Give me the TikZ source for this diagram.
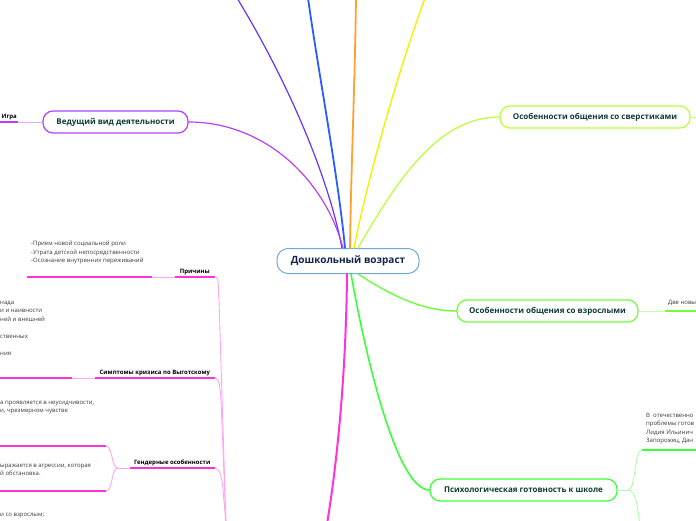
\documentclass[tikz,border=0pt]{standalone}
\usepackage{fontspec}
\setmainfont{Open Sans}
\usetikzlibrary{positioning, calc}

\definecolor{rootblue}{HTML}{6FA8DC}
\definecolor{roottext}{HTML}{10244A}
\definecolor{nodetext}{HTML}{0E3B36}
\definecolor{cViolet}{HTML}{6633FF}
\definecolor{cBlue}{HTML}{2B5CFF}
\definecolor{cOrange}{HTML}{FFA033}
\definecolor{cYellow}{HTML}{F2F200}
\definecolor{cPurple}{HTML}{B540F7}
\definecolor{cPurpleL}{HTML}{DDA8FF}
\definecolor{cLime}{HTML}{B8FF33}
\definecolor{cLimeL}{HTML}{C8FF55}
\definecolor{cGreenA}{HTML}{6CFF3A}
\definecolor{cGreenAL}{HTML}{C4FFB0}
\definecolor{cGreenB}{HTML}{3CFF3C}
\definecolor{cGreenBL}{HTML}{AAFFAA}
\definecolor{cMagenta}{HTML}{FF33DD}
\definecolor{cPinkL}{HTML}{FFA6F0}
\definecolor{notegray}{HTML}{3A3A3A}

\begin{document}
\begin{tikzpicture}[
    x=1pt, y=-1pt,
    rootnode/.style={
        rectangle,
        rounded corners=11pt,
        draw=rootblue,
        line width=1pt,
        fill=white,
        minimum width=142pt,
        minimum height=25pt,
        text=roottext,
        font=\fontsize{10}{12}\selectfont\bfseries
    },
    mainnode/.style={
        rectangle,
        rounded corners=10pt,
        draw=#1,
        line width=1.2pt,
        fill=white,
        minimum height=22pt,
        inner xsep=0pt,
        text=nodetext,
        font=\fontsize{8}{10}\selectfont\bfseries
    },
    topic/.style={
        inner xsep=0pt,
        inner ysep=2pt,
        text=black,
        font=\fontsize{6}{7}\selectfont\bfseries
    },
    note/.style={
        inner sep=0pt,
        align=left,
        text=notegray,
        font=\fontsize{6}{8.5}\selectfont
    },
    branch/.style={
        line width=#1,
        line cap=round
    },
    uline/.style={
        draw=#1,
        line width=1.8pt
    },
    link/.style={
        draw=#1,
        line width=0.9pt
    }
]

\useasboundingbox (0,0) rectangle (696,520);
\clip (0,0) rectangle (696,520);

% Central and main topics
\node[rootnode] (root) at (348,261) {Дошкольный возраст};
\node[mainnode=cPurple, minimum width=145pt] (lead) at (115.5,122) {Ведущий вид деятельности};
\node[mainnode=cLime, minimum width=190pt] (peers) at (595,117) {Особенности общения со сверстиками};
\node[mainnode=cGreenA, minimum width=181pt] (adults) at (547.5,311) {Особенности общения со взрослыми};
\node[mainnode=cGreenB, minimum width=187pt] (ready) at (523.5,490) {Психологическая готовность к школе};

% Free ends at the border
\coordinate (endviolet) at (237,-2);
\coordinate (endblue) at (308,-2);
\coordinate (endorange) at (356,-2);
\coordinate (endyellow) at (425,-2);
\coordinate (endmag) at (327,524);
\coordinate (endpeers) at (698,117);
\coordinate (pmag) at (226,524);
\coordinate (rd2) at (640,524);

% Branches from the centre
\draw[branch=1.2pt, cViolet] ([xshift=-6pt]root.north) .. controls (328,175) and (287,80) .. (endviolet);
\draw[branch=1.8pt, cBlue] ([xshift=-3pt]root.north) .. controls (338,175) and (318,70) .. (endblue);
\draw[branch=1.8pt, cOrange] ([xshift=2pt]root.north) .. controls (351,170) and (355,80) .. (endorange);
\draw[branch=1.4pt, cYellow] ([xshift=6pt]root.north) .. controls (365,190) and (395,80) .. (endyellow);
\draw[branch=1.2pt, cLime] ([xshift=10pt]root.north) .. controls (400,175) and (440,117) .. (peers.west);
\draw[branch=1.2pt, cPurple] ([xshift=-5pt]root.north) .. controls (325,180) and (265,122) .. (lead.east);
\draw[branch=1.4pt, cGreenA] ([xshift=10pt]root.south) .. controls (395,298) and (425,311) .. (adults.west);
\draw[branch=1.6pt, cGreenB] ([xshift=3pt]root.south) .. controls (370,380) and (400,490) .. (ready.west);
\draw[branch=2pt, cMagenta] ([xshift=-1pt]root.south) .. controls (346,380) and (336,470) .. (endmag);
\draw[link=cLimeL] (peers.east) -- (endpeers);

% Left upper: leading activity
\node[topic, anchor=south west, minimum width=18pt] (igra) at (0,122) {Игра};
\draw[uline=cPurple] (igra.south west) -- (igra.south east);
\draw[link=cPurpleL] (igra.south east) -- (lead.west);

% Left lower: crisis of seven years
\node[note, anchor=north west] (prichtxt) at (31,241) {-Прием новой социальной роли\\-Утрата детской непосредственности\\-Осознание внутренних переживаний};
\coordinate (pu1) at (27,277);
\coordinate (pu2) at (152,277);
\node[topic, anchor=south east, minimum width=40pt] (prich) at (215,277) {Причины};
\draw[uline=cMagenta] (pu1) -- (pu2);
\draw[uline=cMagenta] (prich.south west) -- (prich.south east);
\draw[link=cPinkL] (pu2) -- (prich.south west);

\node[note, anchor=north west] (symtxt) at (0,301) {нада\\и и наивности\\ней и внешней\\\mbox{}\\ственных\\\mbox{}\\ния};
\coordinate (su1) at (-2,378);
\coordinate (su2) at (72,378);
\node[topic, anchor=south east, minimum width=120pt] (sympt) at (215,378) {Симптомы кризиса по Выготскому};
\draw[uline=cMagenta] (su1) -- (su2);
\draw[uline=cMagenta] (sympt.south west) -- (sympt.south east);
\draw[link=cPinkL] (su2) -- (sympt.south west);

\node[note, anchor=north west] (gnote1) at (0,401) {а проявляется в неусидчивости,\\и, чрезмерном чувстве};
\node[note, anchor=north west] (gnote2) at (0,464) {ыражается в агрессии, которая\\й обстановка.};
\coordinate (gu1) at (-2,446);
\coordinate (gu2) at (106,446);
\coordinate (gv1) at (-2,491);
\coordinate (gv2) at (106,491);
\coordinate (gj) at (118,468);
\node[topic, anchor=south east, minimum width=85pt] (gender) at (215,468) {Гендерные особенности};
\draw[uline=cMagenta] (gu1) -- (gu2);
\draw[uline=cMagenta] (gv1) -- (gv2);
\draw[uline=cMagenta] (gender.south west) -- (gender.south east);
\draw[link=cPinkL] (gender.south west) -- (gj);
\draw[link=cPinkL] (gj) .. controls (111,468) and (113,446) .. (gu2);
\draw[link=cPinkL] (gj) .. controls (111,468) and (113,491) .. (gv2);

\node[note, anchor=north west] (adtxt) at (0,513) {и со взрослым;};

% Trunk of the crisis branch
\coordinate (pj1) at (219,300);
\coordinate (pj2) at (221,400);
\coordinate (pj3) at (223,490);
\draw[link=cPinkL] (prich.south east) .. controls (219,277) and (218,285) .. (pj1) -- (pmag);
\draw[link=cPinkL] (sympt.south east) .. controls (219,378) and (220,386) .. (pj2) -- (pmag);
\draw[link=cPinkL] (gender.south east) .. controls (219,468) and (222,476) .. (pj3) -- (pmag);

% Right side
\node[note, anchor=north west] (adnote) at (668,300) {Две новы};
\coordinate (au1) at (665,311);
\coordinate (au2) at (698,311);
\draw[link=cGreenAL] (adults.east) -- (au1);
\draw[uline=cGreenA] (au1) -- (au2);

\node[note, anchor=north west] (rdnote) at (646,413) {В \ отечественно\\проблемы готов\\Лидия Ильинич\\Запорожец, Дан};
\coordinate (ru1) at (642,450);
\coordinate (ru2) at (698,450);
\coordinate (rj) at (628,490);
\draw[uline=cGreenB] (ru1) -- (ru2);
\draw[link=cGreenBL] (ready.east) -- (rj);
\draw[link=cGreenBL] (rj) .. controls (636,490) and (634,450) .. (ru1);
\draw[link=cGreenBL] (rj) .. controls (636,490) and (637,505) .. (rd2);

\end{tikzpicture}
\end{document}
